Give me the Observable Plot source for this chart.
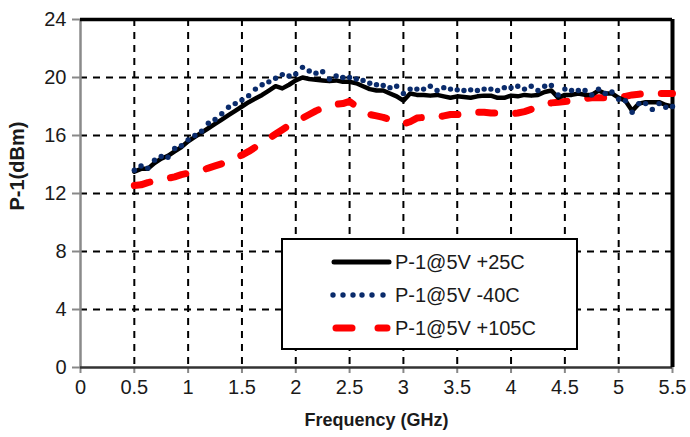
<!DOCTYPE html>
<html>
<head>
<meta charset="utf-8">
<script src="https://cdn.jsdelivr.net/npm/d3@7"></script>
<script src="https://cdn.jsdelivr.net/npm/@observablehq/plot@0.6"></script>
<style>
  html, body { margin: 0; padding: 0; background: #fff; }
  #wrap { position: relative; width: 690px; height: 437px; font-family: "Liberation Sans", Arial, sans-serif; }
  #legend { position: absolute; left: 281px; top: 238px; }
</style>
</head>
<body>
<div id="wrap"></div>
<script>
// Frequency sweep (GHz)
const freq = [0.5,0.5625,0.625,0.6875,0.75,0.8125,0.875,0.9375,1,1.0625,1.125,1.1875,1.25,1.3125,1.375,1.4375,
  1.5,1.5625,1.625,1.6875,1.75,1.8125,1.875,1.9375,2,2.0625,2.125,2.1875,2.25,2.3125,2.375,2.4375,
  2.5,2.5625,2.625,2.6875,2.75,2.8125,2.875,2.9375,3,3.0625,3.125,3.1875,3.25,3.3125,3.375,3.4375,
  3.5,3.5625,3.625,3.6875,3.75,3.8125,3.875,3.9375,4,4.0625,4.125,4.1875,4.25,4.3125,4.375,4.4375,
  4.5,4.5625,4.625,4.6875,4.75,4.8125,4.875,4.9375,5,5.0625,5.125,5.1875,5.25,5.3125,5.375,5.4375,5.5];

// P-1@5V +25C
const p25 = [13.5,13.7,13.7,14.1,14.4,14.6,14.9,15.2,15.6,15.9,16.2,16.5,16.8,17.1,17.4,17.7,
  18.0,18.3,18.55,18.8,19.1,19.4,19.25,19.5,19.8,20.0,19.9,19.85,19.8,19.75,19.8,19.7,
  19.7,19.6,19.4,19.2,19.1,19.1,18.9,18.7,18.4,18.9,18.8,18.8,18.75,18.8,18.7,18.6,
  18.7,18.65,18.6,18.7,18.75,18.75,18.6,18.6,18.75,18.7,18.8,18.75,18.8,19.0,19.1,18.6,
  18.8,18.8,18.9,18.8,18.8,19.1,18.9,18.9,18.6,18.4,17.7,18.2,18.3,18.3,18.3,18.1,18.0];

// P-1@5V -40C
const m40 = [13.6,13.9,13.75,14.3,14.55,14.5,15.1,15.3,15.7,16.0,16.3,16.85,17.1,17.5,17.95,18.2,
  18.45,18.75,19.2,19.5,19.7,19.95,20.2,20.1,20.25,20.7,20.45,20.3,20.4,19.9,20.1,20.0,
  20.0,19.9,19.8,19.6,19.5,19.45,19.3,19.4,18.9,19.2,19.2,19.2,19.4,19.1,19.3,19.2,
  19.15,19.1,19.15,19.1,19.2,19.2,19.1,19.3,19.3,19.4,19.2,19.4,19.1,19.4,19.45,18.8,
  19.2,19.1,19.1,19.1,18.8,19.2,18.9,19.0,18.5,18.4,17.6,18.2,18.2,17.8,18.2,17.95,18.0];

// P-1@5V +105C
const p105 = [12.55,12.6,12.75,12.85,12.95,13.05,13.15,13.3,13.4,13.5,13.6,13.75,13.9,14.05,14.25,14.45,
  14.65,14.9,15.2,15.5,15.8,16.1,16.4,16.7,16.95,17.2,17.45,17.7,17.9,18.05,18.15,18.2,
  18.35,18.0,17.65,17.45,17.35,17.25,17.1,16.95,16.8,16.95,17.2,17.25,17.3,17.25,17.35,17.45,
  17.45,17.5,17.6,17.6,17.6,17.55,17.55,17.5,17.5,17.55,17.65,17.8,17.95,18.15,18.25,18.3,
  18.35,18.4,18.5,18.55,18.6,18.6,18.6,18.6,18.6,18.7,18.8,18.85,18.9,18.9,18.9,18.9,18.9];

const xTicks = [0,0.5,1,1.5,2,2.5,3,3.5,4,4.5,5,5.5];
const yTicks = [0,4,8,12,16,20,24];
const xGrid = [0.5,1,1.5,2,2.5,3,3.5,4,4.5,5];
const yGrid = [4,8,12,16,20];
const seriesNames = ["P-1@5V +25C", "P-1@5V -40C", "P-1@5V +105C"];
const xTitle = "Frequency (GHz)";
const yTitle = "P-1(dBm)";

const rows = (vals) => freq.map((f, i) => ({f, v: vals[i]}));

const chart = Plot.plot({
  width: 690,
  height: 437,
  marginLeft: 80,
  marginRight: 18,
  marginTop: 19,
  marginBottom: 70,
  style: { fontFamily: "'Liberation Sans', Arial, sans-serif", fontSize: "20px", color: "#1a1a1a", background: "#fff", overflow: "visible" },
  x: { domain: [0, 5.5] },
  y: { domain: [0, 24] },
  marks: [
    Plot.ruleY(yGrid, { stroke: "#000", strokeWidth: 2, strokeDasharray: "7,6" }),
    Plot.ruleX(xGrid, { stroke: "#000", strokeWidth: 2, strokeDasharray: "7,6" }),
    Plot.axisX({ ticks: xTicks, tickSize: 6, tickPadding: 6, stroke: "#888", strokeWidth: 2, fill: "#1a1a1a", label: null, tickFormat: d => String(d) }),
    Plot.axisY({ ticks: yTicks, tickSize: 8, tickPadding: 6, stroke: "#888", strokeWidth: 2, fill: "#1a1a1a", label: null }),
    Plot.ruleX([0], { stroke: "#8a8a8a", strokeWidth: 2.5 }),
    Plot.ruleY([0], { stroke: "#333", strokeWidth: 2.5 }),
    Plot.ruleY([24], { stroke: "#000", strokeWidth: 3.5 }),
    Plot.ruleX([5.5], { stroke: "#000", strokeWidth: 4 }),
    Plot.line(rows(p105), { x: "f", y: "v", stroke: "#ff0000", strokeWidth: 7, strokeDasharray: "16,21", strokeLinecap: "round", strokeLinejoin: "round" }),
    Plot.line(rows(p25), { x: "f", y: "v", stroke: "#000", strokeWidth: 4.5, strokeLinejoin: "round" }),
    Plot.dot(rows(m40), { x: "f", y: "v", r: 2.7, fill: "#0a2b6b", stroke: null }),
    Plot.text([xTitle], { frameAnchor: "bottom", lineAnchor: "middle", dy: 53, fontWeight: "bold", fontSize: 18, fill: "#1a1a1a" }),
    Plot.text([yTitle], { frameAnchor: "left", lineAnchor: "middle", rotate: -90, dx: -63, dy: 17, fontWeight: "bold", fontSize: 20, fill: "#1a1a1a" })
  ]
});

const wrap = document.getElementById("wrap");
wrap.appendChild(chart);

// Legend (inside the plot area, as in the reference)
const leg = d3.create("svg").attr("id", "legend").attr("width", 300).attr("height", 114);
leg.append("rect").attr("x", 1).attr("y", 1).attr("width", 295).attr("height", 110)
  .attr("fill", "#fff").attr("stroke", "#000").attr("stroke-width", 2);
const rowY = [24, 57, 90];
// +25C solid black
leg.append("line").attr("x1", 53).attr("x2", 108).attr("y1", rowY[0]).attr("y2", rowY[0])
  .attr("stroke", "#000").attr("stroke-width", 5).attr("stroke-linecap", "round");
// -40C dots
[52, 62, 72, 81, 91, 102].forEach(x => leg.append("circle").attr("cx", x).attr("cy", rowY[1]).attr("r", 2.7).attr("fill", "#0a2b6b"));
// +105C dashes
leg.append("line").attr("x1", 55).attr("x2", 71).attr("y1", rowY[2]).attr("y2", rowY[2])
  .attr("stroke", "#ff0000").attr("stroke-width", 7).attr("stroke-linecap", "round");
leg.append("line").attr("x1", 97).attr("x2", 106).attr("y1", rowY[2]).attr("y2", rowY[2])
  .attr("stroke", "#ff0000").attr("stroke-width", 7).attr("stroke-linecap", "round");
seriesNames.forEach((name, i) => {
  leg.append("text").attr("x", 114).attr("y", rowY[i]).attr("dy", "0.36em")
    .attr("font-size", 20).attr("fill", "#1a1a1a")
    .attr("font-family", "'Liberation Sans', Arial, sans-serif").text(name);
});
wrap.appendChild(leg.node());
</script>
</body>
</html>
